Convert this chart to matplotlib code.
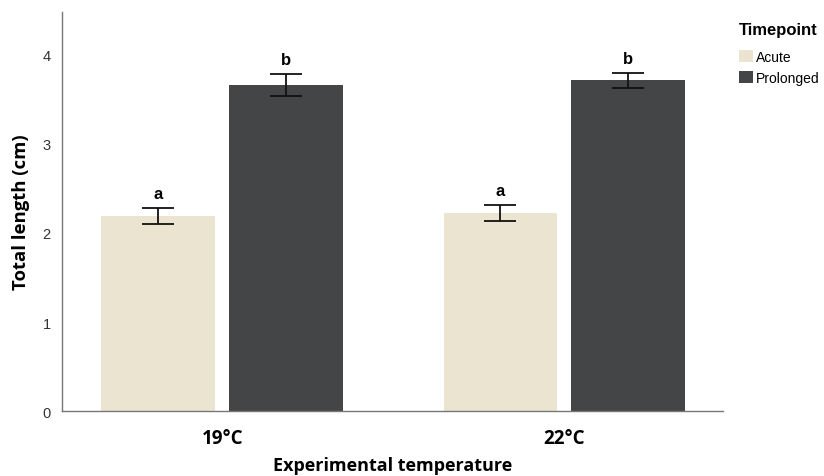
import matplotlib.pyplot as plt
from matplotlib.patches import Patch
import numpy as np

temps = ["19°C", "22°C"]
timepoints = ["Acute", "Prolonged"]
means = {"Acute": [2.19, 2.22], "Prolonged": [3.66, 3.71]}
errs = {"Acute": [0.09, 0.09], "Prolonged": [0.12, 0.08]}
letters = {"Acute": ["a", "a"], "Prolonged": ["b", "b"]}
yticks = [0, 1, 2, 3, 4]

colours = {"Acute": "#EAE4D1", "Prolonged": "#444547"}

fig = plt.figure(figsize=(8.24, 4.77), dpi=100)
ax = fig.add_axes([0.0752, 0.136, 0.802, 0.837])

x = np.arange(len(temps))
width = 0.333
offsets = {"Acute": -0.187, "Prolonged": 0.187}

for tp in timepoints:
    xs = x + offsets[tp]
    ax.bar(xs, means[tp], width=width, color=colours[tp], zorder=2)
    ax.errorbar(xs, means[tp], yerr=errs[tp], fmt="none", ecolor="#111111",
                elinewidth=1.3, capsize=11.5, capthick=1.3, zorder=3)
    for xi, m, e, l in zip(xs, means[tp], errs[tp], letters[tp]):
        ax.text(xi, m + e + 0.08, l, ha="center", va="bottom",
                fontsize=12, fontweight="bold", family="Liberation Sans")

ax.set_xlim(-0.469, 1.463)
ax.set_ylim(0, 4.48)
ax.set_yticks(yticks)
ax.set_yticklabels([str(t) for t in yticks], family="Liberation Sans",
                   fontsize=10.5, color="#333333")
ax.set_xticks(x)
ax.set_xticklabels(temps, fontsize=13.5, fontweight="bold", family="Open Sans")
ax.tick_params(axis="both", length=0)
ax.tick_params(axis="x", pad=12)
ax.tick_params(axis="y", pad=8)

for s in ["top", "right"]:
    ax.spines[s].set_visible(False)
for s in ["left", "bottom"]:
    ax.spines[s].set_color("#777777")
    ax.spines[s].set_linewidth(1.0)

ax.set_ylabel("Total length (cm)", fontsize=13.3, fontweight="bold",
              family="Open Sans", labelpad=9)
ax.set_xlabel("Experimental temperature", fontsize=13, fontweight="bold",
              family="Open Sans", labelpad=6)

handles = [Patch(facecolor=colours[tp], label=tp) for tp in timepoints]
leg = fig.legend(handles=handles, title="Timepoint", loc="upper left",
                 bbox_to_anchor=(0.882, 0.977), frameon=False,
                 prop={"family": "Liberation Sans", "size": 10},
                 handlelength=1.0, handleheight=1.0, handletextpad=0.2,
                 labelspacing=0.5, alignment="left")
leg.get_title().set_fontweight("bold")
leg.get_title().set_fontsize(12)
leg.get_title().set_family("Liberation Sans")
leg._legend_box.sep = 9

fig.savefig("out.png", dpi=100)
